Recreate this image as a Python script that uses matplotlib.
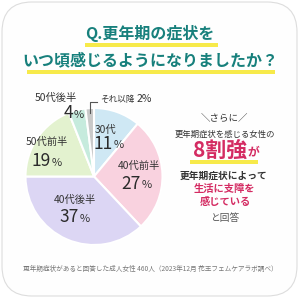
"""Pie chart: 更年期の症状をいつ頃感じるようになりましたか？"""

import matplotlib

matplotlib.use("Agg")
import matplotlib.pyplot as plt
import numpy as np
from matplotlib.patches import FancyBboxPatch, Rectangle

plt.rcParams["font.family"] = ["Noto Sans CJK JP", "DejaVu Sans"]

# data, clockwise from 12 o'clock
ages = ["30代", "40代前半", "40代後半", "50代前半", "50代後半", "それ以降"]
shares = [11, 27, 37, 19, 4, 2]
colors = ["#cfe8f4", "#f9d2df", "#dcd6f4", "#e3f2cf", "#c6ebdd", "#c9c9c9"]

title_lines = ["Q.更年期の症状を", "いつ頃感じるようになりましたか？"]
footer = "更年期症状があると回答した成人女性 460人（2023年12月 花王フェムケアラボ調べ）"

TEAL = "#17807c"
PINK = "#d42b62"
YELLOW = "#f7ea4a"
DARK = "#333333"

fig = plt.figure(figsize=(3, 3), dpi=100)
fig.patch.set_facecolor("white")

# pixel-space background axes
bg = fig.add_axes([0, 0, 1, 1], zorder=0)
bg.set_xlim(0, 300)
bg.set_ylim(300, 0)
bg.axis("off")

card = FancyBboxPatch(
    (2, 2), 295, 294,
    boxstyle="round,pad=0,rounding_size=30",
    facecolor="#fefefe", edgecolor="#dddddd", linewidth=0.8,
)
bg.add_patch(card)

# title with yellow marker underline
for text, y, (x0, x1) in zip(title_lines, [33, 60], [(85, 218), (27, 275)]):
    bg.add_patch(Rectangle((x0, y + 10), x1 - x0, 3.5, color=YELLOW, lw=0))
    bg.text(150, y, text, ha="center", va="center", fontsize=11.5,
            fontweight="bold", color=TEAL)

# pie
cx, cy, r = 94, 176.5, 68.5
pie_ax = fig.add_axes([(cx - r) / 300, (300 - cy - r) / 300, 2 * r / 300, 2 * r / 300],
                      zorder=1)
wedges, _ = pie_ax.pie(
    shares, colors=colors, startangle=90, counterclock=False,
    wedgeprops=dict(edgecolor="white", linewidth=1.5),
)
pie_ax.set_xlim(-1, 1)
pie_ax.set_ylim(-1, 1)

T = bg.transData


def pct(x, y, num, big=12.5, small=8):
    pie_ax.text(x + 4, y, str(num), transform=T, ha="right", va="center",
                fontsize=big, color="#2b2b2b")
    pie_ax.text(x + 4.5, y + 1.5, "%", transform=T, ha="left", va="center",
                fontsize=small, color=DARK)


label_pos = [
    ((106, 130), (109, 144)),
    ((139, 166), (137, 184)),
    ((75, 200), (75, 217)),
    ((47, 142), (47, 161)),
    ((56, 98), (69, 113)),
]
for name, val, (lp, pp) in zip(ages[:5], shares[:5], label_pos):
    pie_ax.text(*lp, name, transform=T, ha="center", va="center",
                fontsize=7.4, color=DARK)
    pct(*pp, val)

# small slice callout
w = wedges[-1]
mid = np.deg2rad((w.theta1 + w.theta2) / 2)
lx = cx + 0.97 * r * np.cos(mid)
pie_ax.plot([lx + 7, lx, lx], [101.5, 101.5, cy - 0.93 * r], transform=T,
            color="#555555", lw=0.8, clip_on=False)
pie_ax.text(100, 99.5, ages[-1], transform=T, ha="left", va="center",
            fontsize=6.2, color=DARK)
pie_ax.text(137, 99, f"{shares[-1]}%", transform=T, ha="left", va="center",
            fontsize=7.5, color=DARK)

# right side callout
bg.text(224, 119, "＼さらに／", ha="center", va="center", fontsize=6.8, color=DARK)
bg.text(225, 134, "更年期症状を感じる女性の", ha="center", va="center",
        fontsize=6, color=DARK)
bg.add_patch(Rectangle((190, 160), 68, 4, color=YELLOW, lw=0))
bg.text(247, 150, "8割強", ha="right", va="center", fontsize=15,
        fontweight="bold", color=PINK)
bg.text(247, 152, "が", ha="left", va="center", fontsize=8.5,
        fontweight="bold", color=PINK)
bg.text(224, 176, "更年期症状によって", ha="center", va="center", fontsize=7,
        fontweight="bold", color=DARK)
bg.text(224, 189, "生活に支障を", ha="center", va="center", fontsize=7.4,
        fontweight="bold", color=PINK)
bg.text(225, 202, "感じている", ha="center", va="center", fontsize=7.4,
        fontweight="bold", color=PINK)
bg.text(225, 218, "と回答", ha="center", va="center", fontsize=7, color="#555555")

bg.text(150, 269, footer, ha="center", va="center", fontsize=4.8, color="#777777")

fig.savefig("out.png", dpi=100)
